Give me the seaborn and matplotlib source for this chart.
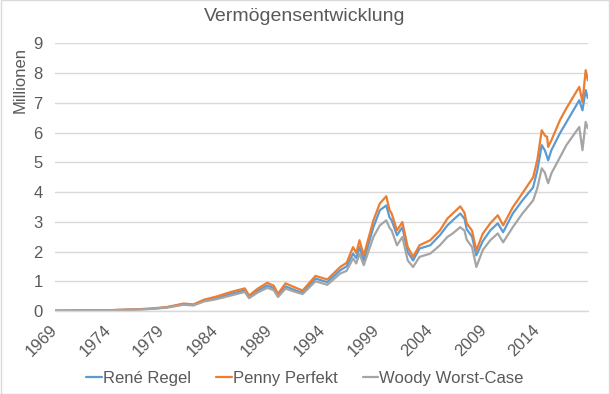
"""Vermögensentwicklung der drei Sparer als Liniendiagramm."""
import matplotlib
matplotlib.use("Agg")
import matplotlib.pyplot as plt
import pandas as pd
import seaborn as sns

# Zeitpunkte (Jahr als Dezimalzahl)
years = [1969.0, 1970.4, 1972.4, 1974.2, 1976.4, 1977.9, 1979.4, 1981.0, 1981.9,
         1982.9, 1984.1, 1985.4, 1986.7, 1987.1, 1987.9, 1988.8, 1989.4, 1989.8,
         1990.5, 1991.6, 1992.1, 1993.3, 1994.4, 1995.6, 1996.2, 1996.8, 1997.1,
         1997.4, 1997.8, 1998.7, 1999.3, 1999.9, 2000.2, 2000.4, 2000.9, 2001.4,
         2001.9, 2002.4, 2003.0, 2004.0, 2004.9, 2005.6, 2006.1, 2006.8, 2007.2,
         2007.4, 2007.9, 2008.3, 2008.9, 2009.6, 2010.3, 2010.8, 2011.7, 2012.6,
         2013.6, 2014.0, 2014.4, 2014.7, 2014.9, 2015.0, 2015.3, 2016.1, 2016.7,
         2017.9, 2018.2, 2018.5, 2018.7]

# Vermögen in Millionen
penny = [0.01, 0.015, 0.025, 0.03, 0.055, 0.08, 0.13, 0.25, 0.22,
         0.38, 0.49, 0.64, 0.76, 0.52, 0.75, 0.95, 0.85, 0.58,
         0.93, 0.76, 0.69, 1.18, 1.06, 1.48, 1.62, 2.15, 1.95,
         2.38, 1.87, 3.05, 3.62, 3.86, 3.40, 3.28, 2.71, 2.99,
         2.15, 1.82, 2.21, 2.38, 2.71, 3.11, 3.28, 3.52, 3.30,
         2.95, 2.70, 2.04, 2.60, 2.95, 3.22, 2.88, 3.49, 3.96,
         4.50, 5.10, 6.08, 5.90, 5.86, 5.52, 5.74, 6.42, 6.82,
         7.54, 7.03, 8.10, 7.76]
rene = [0.01, 0.014, 0.023, 0.027, 0.05, 0.073, 0.12, 0.23, 0.20,
        0.35, 0.43, 0.58, 0.69, 0.47, 0.68, 0.86, 0.77, 0.52,
        0.83, 0.67, 0.62, 1.09, 0.97, 1.37, 1.50, 1.93, 1.78,
        2.15, 1.70, 2.82, 3.39, 3.55, 3.15, 3.05, 2.55, 2.82,
        1.98, 1.70, 2.10, 2.21, 2.55, 2.88, 3.05, 3.28, 3.10,
        2.75, 2.50, 1.87, 2.35, 2.71, 2.95, 2.65, 3.28, 3.72,
        4.16, 4.75, 5.58, 5.40, 5.18, 5.07, 5.41, 5.98, 6.35,
        7.09, 6.75, 7.43, 7.16]
woody = [0.01, 0.013, 0.021, 0.025, 0.046, 0.068, 0.11, 0.21, 0.185,
         0.32, 0.40, 0.52, 0.64, 0.43, 0.62, 0.78, 0.70, 0.47,
         0.75, 0.62, 0.57, 1.00, 0.88, 1.26, 1.35, 1.77, 1.60,
         1.93, 1.54, 2.49, 2.88, 3.05, 2.80, 2.71, 2.21, 2.49,
         1.70, 1.48, 1.82, 1.93, 2.21, 2.49, 2.61, 2.82, 2.70,
         2.40, 2.15, 1.48, 2.05, 2.38, 2.61, 2.31, 2.82, 3.28,
         3.72, 4.15, 4.80, 4.65, 4.40, 4.30, 4.63, 5.17, 5.58,
         6.19, 5.41, 6.36, 6.15]

series_names = ["René Regel", "Penny Perfekt", "Woody Worst-Case"]
colors = ["#5B9BD5", "#ED7D31", "#A5A5A5"]
label_years = list(range(1969, 2019, 5))

df = pd.concat([
    pd.DataFrame({"Jahr": years, "Wert": vals, "Person": name})
    for name, vals in zip(series_names, [rene, penny, woody])
])

sns.set_style("white")
plt.rcParams["font.family"] = ["Liberation Sans", "DejaVu Sans"]

fig = plt.figure(figsize=(6.1, 3.94), dpi=100)
ax = fig.add_axes([0.0902, 0.2107, 0.8738, 0.679])

sns.lineplot(data=df, x="Jahr", y="Wert", hue="Person", hue_order=series_names,
             palette=colors, linewidth=1.6, ax=ax, legend=True, sort=False)

ax.set_xlim(1969, 2018.72)
ax.set_ylim(0, 9)
ax.set_yticks(range(10))
ax.yaxis.grid(True, color="#D9D9D9", linewidth=1)
ax.set_axisbelow(True)
for side in ["top", "right", "left"]:
    ax.spines[side].set_visible(False)
ax.spines["bottom"].set_color("#D9D9D9")
ax.spines["bottom"].set_linewidth(1)

ax.set_xticks(label_years)
ax.set_xticks(range(1969, 2019), minor=True)
ax.set_xticklabels([str(y) for y in label_years], rotation=45, ha="right",
                   va="center", rotation_mode="anchor")
ax.tick_params(axis="x", which="both", direction="out", length=4, color="#D9D9D9",
               labelsize=12, labelcolor="#595959", pad=8)
ax.tick_params(axis="y", length=0, labelsize=12, labelcolor="#595959", pad=9)

ax.set_xlabel("")
ax.set_ylabel("Millionen", fontsize=12, color="#595959")
ax.yaxis.set_label_coords(-0.052, 0.862)
fig.text(0.5, 1 - 8 / 394, "Vermögensentwicklung", ha="center", va="top",
         fontsize=14, color="#595959")

handles, labels = ax.get_legend_handles_labels()
ax.get_legend().remove()
fig.legend(handles, labels, loc="lower center", bbox_to_anchor=(0.5, -0.018), ncol=3,
           frameon=False, fontsize=12, handlelength=0.95, handletextpad=0.05,
           columnspacing=1.5, labelcolor="#595959")

fig.patches.append(plt.Rectangle((0.001, 0.001), 0.998, 0.998, transform=fig.transFigure,
                                 fill=False, edgecolor="#D9D9D9", linewidth=1))
fig.savefig("out.png", dpi=100)
